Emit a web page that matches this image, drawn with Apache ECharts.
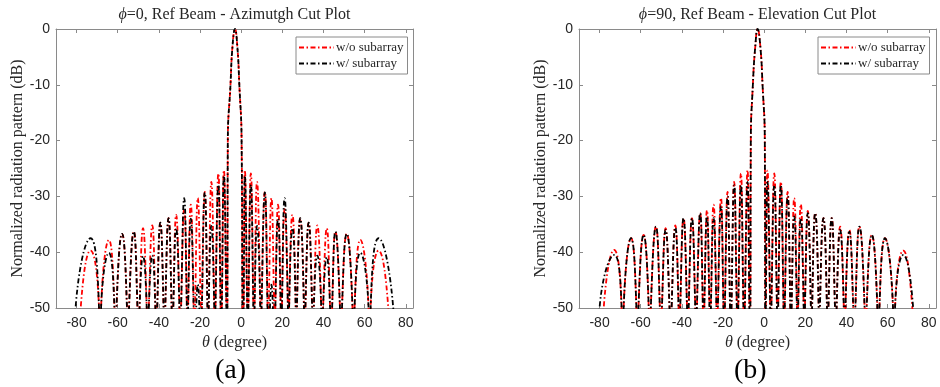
<!DOCTYPE html>
<html><head><meta charset="utf-8">
<script src="https://cdn.jsdelivr.net/npm/echarts@6/dist/echarts.min.js"></script>
<style>html,body{margin:0;padding:0;background:#fff}#c{width:940px;height:387px}</style>
</head><body><div id="c"></div>
<script>
// ---------- tick labels ----------
const thetaTicks = [-80, -60, -40, -20, 0, 20, 40, 60, 80];
const dbTicks = [0, -10, -20, -30, -40, -50];
const nullLevel = -60;   // nulls lie below the plotted floor
const floorLevel = -50;  // level at which lobe feet cross the bottom axis

// ---------- panel (a): phi = 0, azimuth cut ----------
const aPeakTheta = [-73.2, -64.3, -57.9, -52.2, -47.7, -43.2, -39.3, -35.3, -31.6, -27.7, -24.5, -21.1, -17.7, -14.5, -11.1, -8.4, -3.0, 1.8, 4.7, 7.7, 11.5, 14.7, 17.9, 21.1, 24.9, 28.7, 32.8, 37.0, 41.6, 45.8, 51.3, 57.9, 66.8];
const aRedPeak   = [-39.7, -37.8, -36.7, -36.3, -35.7, -35.2, -34.7, -33.9, -33.3, -32.3, -31.5, -30.3, -29.2, -27.4, -25.9, -25.3, 0, -25.3, -25.9, -27.4, -29.2, -30.3, -31.5, -32.3, -33.3, -33.9, -34.7, -35.2, -35.7, -36.3, -36.7, -37.8, -39.7];
const aBlackPeak = [-37.5, -40.1, -36.7, -36.3, -40.7, -40.6, -34.7, -33.9, -35.7, -30.3, -34.0, -45.8, -29.3, -35.3, -27.9, -26.3, 0, -26.3, -27.9, -35.3, -29.3, -45.8, -34.0, -30.3, -35.7, -33.9, -34.7, -40.6, -40.9, -36.3, -36.7, -40.1, -37.5];
// where each lobe crosses the -50 dB floor (left / right foot); outer feet differ per curve
const aFootL = [null, -68.1, -60.6, -54.5, -49.4, -44.9, -40.8, -36.9, -33.0, -29.2, -25.8, -22.4, -19.1, -15.8, -12.5, -9.4, -6.7, 1.2, 3.5, 6.5, 9.9, 13.4, 16.6, 19.8, 23.3, 27.1, 31.2, 35.3, 39.8, 44.2, 49.0, 55.1, 62.9];
const aFootR = [-69.1, -61.6, -55.5, -50.4, -45.9, -41.7, -37.7, -33.8, -30.0, -26.4, -23.1, -19.7, -16.4, -13.1, -10.0, -7.2, 0.6, 2.9, 5.9, 9.3, 12.8, 16.0, 19.2, 22.7, 26.5, 30.5, 34.5, 38.9, 43.2, 48.0, 54.1, 61.9, null];
const aRedOuterFoot = [-78.0, 71.5];
const aBlackOuterFoot = [-80.5, 73.9];
const aNullTheta = [-68.6, -61.1, -55.0, -49.9, -45.4, -41.2, -37.3, -33.4, -29.6, -26.1, -22.8, -19.4, -16.1, -12.8, -9.7, -6.9, 0.9, 3.2, 6.2, 9.6, 13.1, 16.3, 19.5, 23.0, 26.8, 30.8, 34.9, 39.3, 43.7, 48.5, 54.6, 62.4];
const aRedOuterNull = [-79.0, 72.5];
const aBlackOuterNull = [-81.5, 75.0];
// main-beam shoulders read at -20, -10 and -3 dB
const aMainTheta = [-6.5, -5.2, -4.2, -1.9, -0.9, 0.2];
const aMainDb = [-20, -10, -3, -3, -10, -20];

// ---------- panel (b): phi = 90, elevation cut ----------
const bPeakTheta = [-72.9, -64.7, -58.6, -52.6, -47.9, -43.2, -39.2, -35.1, -31.1, -27.8, -24.6, -21.0, -17.8, -14.6, -11.3, -8.1, -3.2, 1.6, 4.9, 8.1, 11.4, 14.6, 17.8, 21.2, 24.8, 28.8, 32.8, 36.9, 41.4, 46.3, 52.3, 58.7, 67.6];
const bRedPeak   = [-39.6, -37.5, -36.9, -35.4, -35.7, -35.2, -33.9, -33.9, -33.0, -32.5, -31.5, -30.3, -29.2, -27.4, -25.9, -25.3, 0, -25.4, -25.9, -27.4, -29.2, -30.3, -31.4, -32.6, -33.0, -33.9, -33.9, -35.4, -36.0, -35.4, -36.9, -37.5, -39.7];
const bBlackPeak = [-40.5, -37.5, -36.9, -35.4, -36.0, -35.6, -33.9, -33.9, -33.0, -33.6, -33.9, -31.8, -30.0, -28.0, -28.0, -27.4, 0, -27.4, -28.0, -28.0, -30.0, -33.6, -33.9, -33.0, -33.0, -33.9, -33.9, -36.0, -36.3, -35.4, -36.9, -37.5, -40.5];
const bFootL = [null, -68.3, -61.1, -55.1, -49.7, -45.0, -40.8, -36.7, -32.7, -29.1, -25.9, -22.5, -19.1, -15.9, -12.6, -9.4, -6.7, 0.8, 3.5, 6.8, 10.0, 13.3, 16.5, 19.8, 23.3, 27.1, 31.2, 35.2, 39.5, 44.3, 49.8, 56.0, 63.6];
const bFootR = [-69.3, -62.1, -56.1, -50.7, -46.0, -41.6, -37.5, -33.5, -29.8, -26.6, -23.2, -19.8, -16.6, -13.3, -10.1, -7.2, 0.5, 2.9, 6.2, 9.4, 12.7, 15.9, 19.2, 22.7, 26.5, 30.5, 34.4, 38.7, 43.3, 48.8, 55.0, 62.6, null];
const bRedOuterFoot = [-78.0, 72.0];
const bBlackOuterFoot = [-80.0, 72.4];
const bNullTheta = [-68.8, -61.6, -55.6, -50.2, -45.5, -41.2, -37.1, -33.1, -29.4, -26.2, -22.8, -19.4, -16.2, -12.9, -9.7, -6.9, 0.65, 3.2, 6.5, 9.7, 13.0, 16.2, 19.5, 23.0, 26.8, 30.8, 34.8, 39.1, 43.8, 49.3, 55.5, 63.1];
const bRedOuterNull = [-79.0, 73.0];
const bBlackOuterNull = [-81.0, 73.4];
const bMainTheta = [-6.5, -5.5, -4.3, -1.9, -0.8, 0.3];
const bMainDb = [-20, -10, -3, -3, -10, -20];

// ---------- build line data from the read values ----------
function buildCurve(peakTheta, peakDb, footL, footR, outerFoot, nullTheta, outerNull, mainTheta, mainDb) {
  const pts = [];
  const last = peakTheta.length - 1;
  peakTheta.forEach((t, i) => {
    pts.push([t, peakDb[i]]);
    if (peakDb[i] > -44) { // lobes that clear the floor by a visible margin show their feet
      pts.push([i === 0 ? outerFoot[0] : footL[i], floorLevel]);
      pts.push([i === last ? outerFoot[1] : footR[i], floorLevel]);
    }
  });
  nullTheta.concat(outerNull).forEach(t => pts.push([t, nullLevel]));
  mainTheta.forEach((t, i) => pts.push([t, mainDb[i]]));
  pts.sort((p, q) => p[0] - q[0]);
  return pts;
}

const RED = '#ff0000', BLACK = '#000000';
const dash = [5, 2.5, 1.5, 2.5];
const axisColor = '#8a8a8a';
const labelColor = '#262626';
const serif = "'Liberation Serif', 'Times New Roman', serif";
const sans = "'Liberation Sans', Arial, sans-serif";

const grids = [
  { left: 56, top: 29, width: 357, height: 279 },
  { left: 579, top: 29, width: 357, height: 279 }
];

const xAxes = [], yAxes = [];
grids.forEach((g, gi) => {
  xAxes.push({
    gridIndex: gi, type: 'value', min: -90, max: 83.5, position: 'bottom',
    axisLine: { show: true, onZero: false, lineStyle: { color: axisColor, width: 1 } },
    axisTick: { show: true, inside: true, length: 4, customValues: thetaTicks, lineStyle: { color: axisColor } },
    axisLabel: { customValues: thetaTicks, color: labelColor, fontFamily: sans, fontSize: 14, margin: 8 },
    splitLine: { show: false },
    name: '{i|θ} (degree)', nameLocation: 'middle', nameGap: 27,
    nameTextStyle: { fontFamily: serif, fontSize: 16, color: labelColor,
      rich: { i: { fontFamily: serif, fontStyle: 'italic', fontSize: 16, color: labelColor } } }
  });
  xAxes.push({
    gridIndex: gi, type: 'value', min: -90, max: 83.5, position: 'top',
    axisLine: { show: true, onZero: false, lineStyle: { color: axisColor, width: 1 } },
    axisTick: { show: true, inside: true, length: 4, customValues: thetaTicks, lineStyle: { color: axisColor } },
    axisLabel: { show: false }, splitLine: { show: false }
  });
  yAxes.push({
    gridIndex: gi, type: 'value', min: -50, max: 0, interval: 10, position: 'left',
    axisLine: { show: true, onZero: false, lineStyle: { color: axisColor, width: 1 } },
    axisTick: { show: true, inside: true, length: 4, customValues: dbTicks, lineStyle: { color: axisColor } },
    axisLabel: { customValues: dbTicks, color: labelColor, fontFamily: sans, fontSize: 14, margin: 6 },
    splitLine: { show: false },
    name: 'Normalized radiation pattern (dB)', nameLocation: 'middle', nameGap: gi === 0 ? 21 : 22,
    nameTextStyle: { fontFamily: serif, fontSize: 16, color: labelColor }
  });
  yAxes.push({
    gridIndex: gi, type: 'value', min: -50, max: 0, interval: 10, position: 'right',
    axisLine: { show: true, onZero: false, lineStyle: { color: axisColor, width: 1 } },
    axisTick: { show: true, inside: true, length: 4, customValues: dbTicks, lineStyle: { color: axisColor } },
    axisLabel: { show: false }, splitLine: { show: false }
  });
});

function lineSeries(name, color, data, gi) {
  return {
    name, type: 'line', xAxisIndex: gi * 2, yAxisIndex: gi * 2, data,
    symbol: 'none', smooth: 0.5, clip: true, animation: false,
    lineStyle: { color, width: 1.8, type: dash }, itemStyle: { color }
  };
}

const series = [
  lineSeries('w/o subarray', RED, buildCurve(aPeakTheta, aRedPeak, aFootL, aFootR, aRedOuterFoot, aNullTheta, aRedOuterNull, aMainTheta, aMainDb), 0),
  lineSeries('w/ subarray', BLACK, buildCurve(aPeakTheta, aBlackPeak, aFootL, aFootR, aBlackOuterFoot, aNullTheta, aBlackOuterNull, aMainTheta, aMainDb), 0),
  lineSeries('w/o subarray', RED, buildCurve(bPeakTheta, bRedPeak, bFootL, bFootR, bRedOuterFoot, bNullTheta, bRedOuterNull, bMainTheta, bMainDb), 1),
  lineSeries('w/ subarray', BLACK, buildCurve(bPeakTheta, bBlackPeak, bFootL, bFootR, bBlackOuterFoot, bNullTheta, bBlackOuterNull, bMainTheta, bMainDb), 1)
];

const legendBase = {
  orient: 'vertical', top: 37, itemWidth: 35, itemHeight: 10, itemGap: 3,
  padding: [4, 4, 4, 2], borderColor: '#8a8a8a', borderWidth: 1, backgroundColor: '#fff',
  itemStyle: { opacity: 0 },
  textStyle: { fontFamily: serif, fontSize: 13, color: labelColor, padding: [0, 0, 0, -3] },
  data: ['w/o subarray', 'w/ subarray'], selectedMode: false
};

const titleStyle = { fontFamily: serif, fontSize: 16, fontWeight: 'normal', color: labelColor,
  rich: { i: { fontFamily: serif, fontStyle: 'italic', fontSize: 16, color: labelColor } } };

const chart = echarts.init(document.getElementById('c'), null, { renderer: 'canvas' });
chart.setOption({
  animation: false,
  backgroundColor: '#ffffff',
  title: [
    { text: '{i|ϕ}=0, Ref Beam - Azimutgh Cut Plot', left: 234.5, top: 7, textAlign: 'center', textStyle: titleStyle, padding: 0 },
    { text: '{i|ϕ}=90, Ref Beam - Elevation Cut Plot', left: 757.5, top: 7, textAlign: 'center', textStyle: titleStyle, padding: 0 }
  ],
  legend: [
    Object.assign({}, legendBase, { left: 296 }),
    Object.assign({}, legendBase, { left: 818 })
  ],
  grid: grids.map(g => Object.assign({ containLabel: false }, g)),
  xAxis: xAxes,
  yAxis: yAxes,
  series,
  graphic: [
    { type: 'text', left: 215, top: 357, style: { text: '(a)', font: "28px 'Liberation Serif'", fill: '#000' } },
    { type: 'text', left: 734, top: 357, style: { text: '(b)', font: "28px 'Liberation Serif'", fill: '#000' } }
  ]
});
</script></body></html>
